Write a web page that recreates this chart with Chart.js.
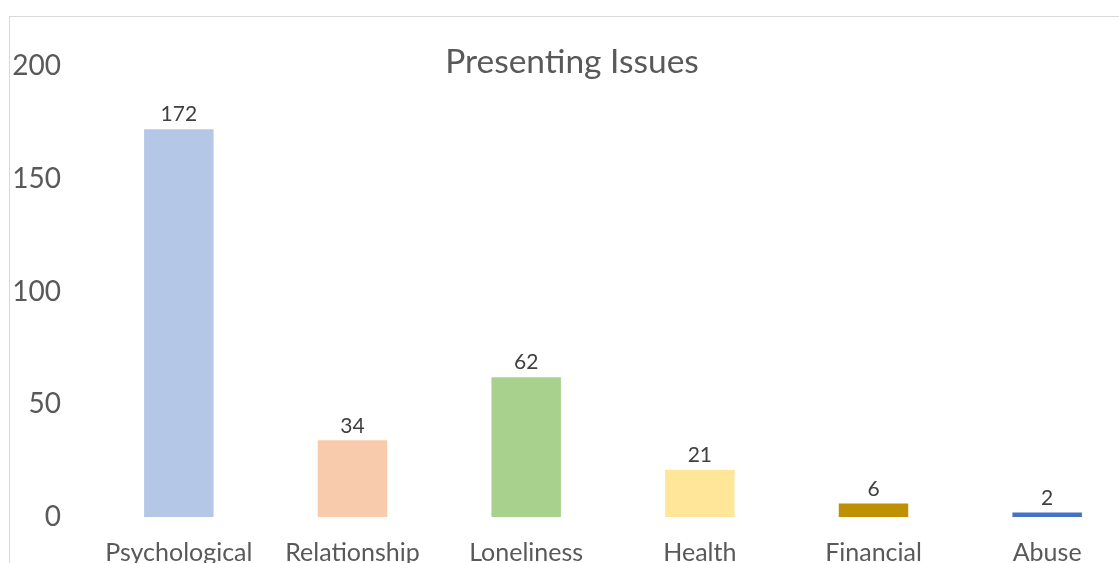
<!DOCTYPE html>
<html>
<head>
<meta charset="utf-8">
<script src="https://cdn.jsdelivr.net/npm/chart.js@4.4.1/dist/chart.umd.min.js"></script>
<style>
  html, body { margin: 0; padding: 0; background: #fff; overflow: hidden; }
  #frame {
    position: absolute; left: 9px; top: 16px;
    width: 1140px; height: 600px;
    border-left: 1px solid #d9d9d9; border-top: 1px solid #d9d9d9;
  }
  #wrap { position: absolute; left: 0; top: 0; width: 1124px; height: 564px; }
</style>
</head>
<body>
<div id="frame"><div id="wrap"><canvas id="myChart"></canvas></div></div>
<script>
// Presenting issues counts
const issues = ['Psychological', 'Relationship', 'Loneliness', 'Health', 'Financial', 'Abuse'];
const counts = [172, 34, 62, 21, 6, 2];
const barColors = ['#b4c7e7', '#f8cbad', '#a9d18e', '#ffe699', '#bf9000', '#4472c4'];
const yTicks = [0, 50, 100, 150, 200];
const chartTitle = 'Presenting Issues';

const FONT = 'Lato, "Open Sans", sans-serif';

// Title sits level with the top of the value axis, so draw it by hand
const overlayTitle = {
    id: 'overlayTitle',
    afterDraw(chart) {
        const ctx = chart.ctx;
        ctx.save();
        ctx.font = '33.5px ' + FONT;
        ctx.fillStyle = '#595959';
        ctx.textAlign = 'center';
        ctx.textBaseline = 'middle';
        ctx.fillText(chartTitle, chart.width / 2, 45);
        ctx.restore();
    }
};

// Draw the value above each bar
const valueLabels = {
    id: 'valueLabels',
    afterDatasetsDraw(chart) {
        const ctx = chart.ctx;
        const meta = chart.getDatasetMeta(0);
        ctx.save();
        ctx.font = '21px ' + FONT;
        ctx.fillStyle = '#404040';
        ctx.textAlign = 'center';
        ctx.textBaseline = 'bottom';
        meta.data.forEach((bar, i) => {
            ctx.fillText(String(counts[i]), bar.x, bar.y - 4);
        });
        ctx.restore();
    }
};

const ctx = document.getElementById('myChart');

new Chart(ctx, {
    type: 'bar',
    data: {
        labels: issues,
        datasets: [{
            data: counts,
            backgroundColor: barColors,
            borderWidth: 0,
            barPercentage: 0.4,
            categoryPercentage: 1
        }]
    },
    options: {
        responsive: true,
        maintainAspectRatio: false,
        animation: false,
        layout: { padding: { left: 0, right: 0, top: 49, bottom: 0 } },
        plugins: {
            legend: { display: false },
            tooltip: { enabled: false },
            title: { display: false }
        },
        scales: {
            y: {
                min: 0,
                max: 200,
                afterBuildTicks(scale) {
                    scale.ticks = yTicks.map(v => ({ value: v }));
                },
                afterFit(scale) { scale.width = 82; },
                grid: { display: false },
                border: { display: false },
                ticks: {
                    color: '#595959',
                    padding: 23,
                    font: { family: FONT, size: 28 }
                }
            },
            x: {
                grid: { display: false },
                border: { display: false },
                ticks: {
                    color: '#595959',
                    padding: 13,
                    maxRotation: 0,
                    autoSkip: false,
                    font: { family: FONT, size: 25 }
                }
            }
        }
    },
    plugins: [valueLabels, overlayTitle]
});
</script>
</body>
</html>
